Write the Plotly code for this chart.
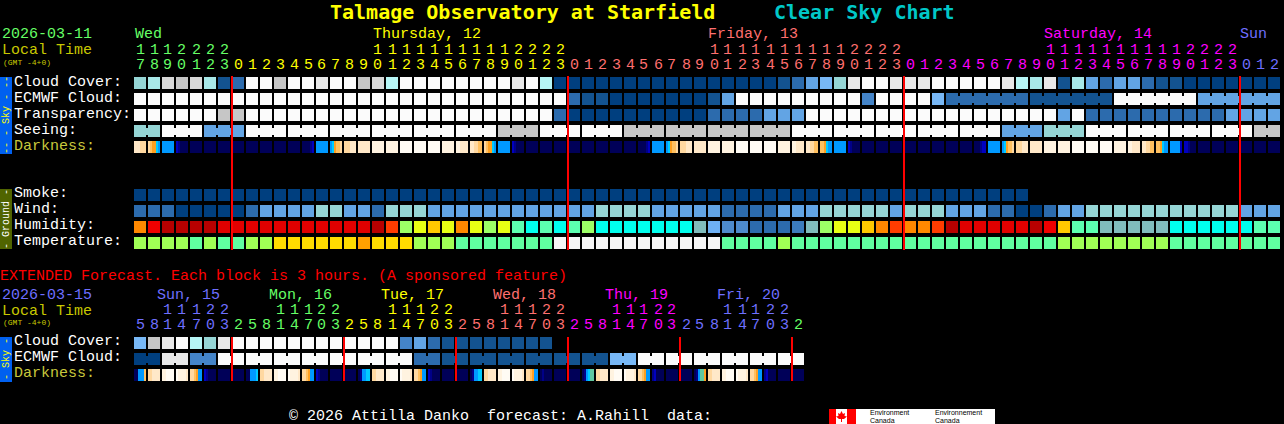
import plotly.graph_objects as go

W, H = 1284, 424

# ---------- data: main forecast (one value per hour, 82 columns) ----------
HOURS = [17,18,19,20,21,22,23,
         0,1,2,3,4,5,6,7,8,9,10,11,12,13,14,15,16,17,18,19,20,21,22,23,
         0,1,2,3,4,5,6,7,8,9,10,11,12,13,14,15,16,17,18,19,20,21,22,23,
         0,1,2,3,4,5,6,7,8,9,10,11,12,13,14,15,16,17,18,19,20,21,22,23,
         0,1,2]
HOUR_DAY = [0]*7 + [1]*24 + [2]*24 + [3]*24 + [4]*3
DAY_NAMES = ["Wed", "Thursday, 12", "Friday, 13", "Saturday, 14", "Sun"]
DAY_COLS = [0, 17, 40.9, 64.95, 78.95]

CLOUD_COVER = [6,7,10,9,10,7,1,
  2,12,12,9,12,12,11,12,12,9,10,8,12,12,12,12,12,12,12,12,11,12,8,0,
  0,0,0,0,0,0,0,0,0,0,0,0,0,0,0,1,2,4,5,6,11,12,12,11,
  11,11,12,12,12,12,12,11,8,7,11,1,7,4,2,4,4,2,1,1,0,0,0,0,
  0,0,0]
ECMWF = [12,12,12,12,12,12,12,
  12,12,12,12,12,12,12,12,12,12,12,12,12,12,12,12,12,12,12,12,12,12,12,12,
  2,1,1,0,0,0,0,0,0,0,1,4,12,12,12,12,12,12,12,12,12,3,12,12,
  12,12,5,2,2,2,2,2,2,1,1,1,1,1,1,12,12,12,12,12,12,4,4,4,
  4,4,4]
ECMWF_SPANS = [1]*58 + [6,6,6,6]
TRANSPARENCY = [12,12,12,12,12,12,9,
  9,12,12,12,12,12,12,12,12,12,12,12,12,12,12,12,12,12,12,12,12,12,12,2,
  0,0,0,0,0,0,0,0,0,0,2,2,2,2,4,4,4,12,12,12,12,12,12,12,
  12,12,12,12,12,12,12,12,12,12,12,4,12,2,2,2,2,2,2,2,2,2,2,4,
  4,4,4]
SEEING = [6,6,12,12,12,4,4,
  4,12,12,12,12,12,12,12,12,12,12,12,12,12,12,12,12,12,12,9,9,9,12,12,
  12,12,12,12,9,9,9,9,9,9,9,9,9,9,9,9,12,12,12,12,12,12,12,12,
  12,12,12,12,12,12,12,4,4,4,6,6,6,12,12,12,12,12,12,12,12,12,12,12,
  12,9,9]
SEEING_SPANS = [2] + [3]*26 + [2]
DARKNESS = ["999888","876643","333333","210000","000000","000000","000000",
  "000000","000000","000000","000000","000000","000012","333333","346778","888999","999999",
  "aaaaaa","aaaaaa","bbbbbb","bbbbbb","bbbbbb","aaaaaa","aa9999","998877","876643","333333",
  "210000","000000","000000","000000",
  "000000","000000","000000","000000","000000","000012","333333","346778","888999","999999",
  "aaaaaa","aaaaaa","bbbbbb","bbbbbb","bbbbbb","aaaaaa","aa9999","998877","776433","333333",
  "210000","000000","000000","000000",
  "000000","000000","000000","000000","000000","000122","333333","346778","888999","999999",
  "aaaaaa","aaaaaa","bbbbbb","bbbbbb","bbbbbb","aaaaaa","aa9999","998877","776433","333332",
  "221000","000000","000000","000000",
  "000000","000000","000000"]
SMOKE = [0,0,0,0,0,0,0,
  0,0,0,0,0,0,0,0,0,0,0,0,0,0,0,0,0,0,0,0,0,0,0,0,
  0,0,0,0,0,0,0,0,0,0,0,0,0,0,0,0,0,0,0,0,0,0,0,0,
  0,0,0,0,0,0,0,0,0]
WIND = [2,2,2,0,0,0,0,
  0,2,4,4,4,4,6,6,4,4,2,6,6,6,4,4,4,4,4,4,4,4,4,4,
  4,4,6,6,6,6,4,4,4,4,4,2,2,2,2,4,4,4,6,6,6,6,6,4,
  6,6,6,4,4,4,2,2,0,0,2,4,4,6,6,6,6,6,6,6,6,6,6,6,
  4,4,4]
HUMIDITY = [0,1,3,3,3,3,2,
  2,2,2,2,2,2,2,2,2,2,3,4,6,7,5,7,0,7,6,7,8,9,8,9,
  8,6,9,9,9,9,9,9,9,10,11,12,12,13,13,13,14,10,6,7,7,5,0,4,
  0,0,4,3,2,2,2,2,2,3,1,5,8,8,10,10,10,10,10,9,9,9,9,9,
  9,8,8]
TEMPERATURE = [0,0,0,0,1,0,1,
  1,0,0,2,2,2,2,2,2,3,2,2,2,0,0,0,1,1,1,1,1,1,1,4,
  4,4,4,4,4,4,4,4,4,4,4,1,1,1,1,0,1,1,1,1,1,1,1,1,
  1,1,1,1,1,1,1,1,1,1,1,0,0,0,0,0,0,0,0,1,1,1,1,1,
  1,1,1]

# ---------- data: extended forecast (one value per 3 hours, 48 columns) ----------
EXT_HOURS = [5,8,11,14,17,20,23,
  2,5,8,11,14,17,20,23, 2,5,8,11,14,17,20,23, 2,5,8,11,14,17,20,23,
  2,5,8,11,14,17,20,23, 2,5,8,11,14,17,20,23, 2]
EXT_DAY = [4]*7 + [0]*8 + [1]*8 + [2]*8 + [3]*8 + [4]*8 + [0]
EXT_DAY_NAMES = ["Sun, 15", "Mon, 16", "Tue, 17", "Wed, 18", "Thu, 19", "Fri, 20"]
EXT_DAY_COLS = [1.65, 9.65, 17.65, 25.65, 33.65, 41.65]
EXT_CLOUD = [5,9,11,12,8,6,11,
  12,12,12,12,12,12,12,12,12,12,12,12,3,4,2,1,1,1,1,1,1,1,1]
EXT_ECMWF = [0,0,11,11,3,3,12,12,12,12,12,12,12,12,12,12,12,12,12,12,2,2,1,1,
  1,1,1,1,1,1,1,1,1,1,5,5,12,12,12,12,12,12,12,12,12,12,12,12]
EXT_ECMWF_SPANS = [2]*24
EXT_DARKNESS = ["003337","889999","aabbbb","baaaa9","887633","210000","000000",
  "000000","003334","889999","aabbbb","baaaa9","887633","210000","000000",
  "000000","013344","889999","aabbbb","baaaa9","887633","210000","000000",
  "000000","013344","889999","aabbbb","baaaa9","887633","010000","000000",
  "000000","013455","889999","aabbbb","baaaa9","887633","120000","000000",
  "000000","013556","889999","aabbbb","baaaa9","887633","120000","000000",
  "000000"]

MIDNIGHTS = [7, 31, 55, 79]
EXT_MIDNIGHTS = [7, 15, 23, 31, 39, 47]

assert all(len(a) == 82 for a in (HOURS, HOUR_DAY, CLOUD_COVER, ECMWF, TRANSPARENCY, SEEING, DARKNESS, WIND, HUMIDITY, TEMPERATURE))
assert len(SMOKE) == 64 and len(EXT_CLOUD) == 30
assert all(len(a) == 48 for a in (EXT_HOURS, EXT_DAY, EXT_ECMWF, EXT_DARKNESS))

# ---------- styles ----------
SKY_PAL = ["#003F7F","#135390","#2C6BAD","#4484C8","#62A4E4","#78B8F6","#95D5D5",
           "#A8E8E8","#B6F6F6","#C6C6C6","#D8D8D8","#E8E8E8","#FBFBFB"]
HUM_PAL = ["#FF8800","#F00000","#E00000","#B80000","#FF3C00","#FFC800","#9CFF66","#E8FF14",
           "#5CFFB0","#00FFEE","#80BCBC","#6EB0F4","#4E8BCB","#2C6BAD","#3C7CBC"]
TEMP_PAL = ["#A0FF55","#60FFA0","#FFDC00","#FFA000","#F6F6F6"]
DARK_PAL = {"0":"#000058","1":"#000088","2":"#0000C0","3":"#0099FF","4":"#00CCFF","5":"#60C8A0",
            "6":"#FFA020","7":"#FFC060","8":"#FFD8A0","9":"#FFE8C8","a":"#FFF3E0","b":"#FFFBF4"}
CYCLE = ["#66FF66","#FFFF00","#FF6F6F","#FF00FF","#6F6FFF"]
MONO = "Liberation Mono"
X0, PITCH, CELL, RH = 134, 14, 12, 12
CW = CELL / PITCH
BAND = 7

fig = go.Figure()

def cell_row(values, palette, top, spans=None):
    xs = [i + CW / 2 for i in range(len(values))]
    fig.add_trace(go.Bar(x=xs, y=[RH]*len(xs), base=[top]*len(xs), width=[CW]*len(xs),
                         marker=dict(color=[palette[v] for v in values], line=dict(width=0)),
                         hoverinfo="skip", showlegend=False))
    if spans:
        cx, cc, i = [], [], 0
        for s in spans:
            for k in range(i, i + s - 1):
                cx.append(k + CW + (1 - CW) / 2)
                cc.append(palette[values[k]])
            i += s
        if cx:
            fig.add_trace(go.Bar(x=cx, y=[BAND]*len(cx), base=[top + (RH - BAND) / 2]*len(cx),
                                 width=[1 - CW]*len(cx),
                                 marker=dict(color=cc, line=dict(width=0)),
                                 hoverinfo="skip", showlegend=False))

def dark_row(blocks, top):
    xs, cs = [], []
    for i, b in enumerate(blocks):
        n = len(b)
        for k, ch in enumerate(b):
            xs.append(i + CW * (k + 0.5) / n)
            cs.append(DARK_PAL[ch])
    fig.add_trace(go.Bar(x=xs, y=[RH]*len(xs), base=[top]*len(xs), width=[CW / 6]*len(xs),
                         marker=dict(color=cs, line=dict(width=0)),
                         hoverinfo="skip", showlegend=False))

cell_row(CLOUD_COVER, SKY_PAL, 77)
cell_row(ECMWF, SKY_PAL, 93, ECMWF_SPANS)
cell_row(TRANSPARENCY, SKY_PAL, 109)
cell_row(SEEING, SKY_PAL, 125, SEEING_SPANS)
dark_row(DARKNESS, 141)
cell_row(SMOKE, SKY_PAL, 189)
cell_row(WIND, SKY_PAL, 205)
cell_row(HUMIDITY, HUM_PAL, 221)
cell_row(TEMPERATURE, TEMP_PAL, 237)
cell_row(EXT_CLOUD, SKY_PAL, 337)
cell_row(EXT_ECMWF, SKY_PAL, 353, EXT_ECMWF_SPANS)
dark_row(EXT_DARKNESS, 369)

def red_lines(cols, y0, y1):
    xs, ys = [], []
    for c in cols:
        xs += [c, c, None]
        ys += [y0, y1, None]
    fig.add_trace(go.Scatter(x=xs, y=ys, mode="lines", line=dict(color="#FF0000", width=2),
                             hoverinfo="skip", showlegend=False))

red_lines(MIDNIGHTS, 76, 250)
red_lines(EXT_MIDNIGHTS, 337, 381)

# ---------- text ----------
ann = []
def T(x, y, s, color, size=15, font=MONO, bold=False, anchor="left", angle=0):
    if bold:
        s = "<b>" + s + "</b>"
    ann.append(dict(x=x / W, y=1 - y / H, xref="paper", yref="paper", text=s, showarrow=False,
                    xanchor=anchor, yanchor="middle", textangle=angle, align="left",
                    font=dict(family=font, size=size, color=color),
                    borderpad=0, borderwidth=0, xshift=0, yshift=0))

def col_px(i):
    return X0 + PITCH * i + CELL / 2

T(330, 12, "Talmage Observatory at Starfield", "#FFFF00", 20, "DejaVu Sans Mono", True)
T(774, 12, "Clear Sky Chart", "#00C8C8", 20, "DejaVu Sans Mono", True)

T(2, 35, "2026-03-11", CYCLE[0])
T(2, 51, "Local Time", "#C8C800")
T(3, 62, "(GMT -4+0)", "#C8C800", 8)
for name, c, col in zip(DAY_NAMES, DAY_COLS, CYCLE):
    T(X0 + PITCH * c + 1, 35, name, col)
for i, h in enumerate(HOURS):
    col = CYCLE[HOUR_DAY[i]]
    if h >= 10:
        T(col_px(i), 50, str(h // 10), col, anchor="center")
    T(col_px(i), 65, str(h % 10), col, anchor="center")

for y, s, c in [(82, "Cloud Cover:", "#FFFFFF"), (98, "ECMWF Cloud:", "#FFFFFF"),
                (114, "Transparency:", "#FFFFFF"), (130, "Seeing:", "#FFFFFF"),
                (146, "Darkness:", "#C8C83C"), (193, "Smoke:", "#FFFFFF"), (209, "Wind:", "#FFFFFF"),
                (225, "Humidity:", "#FFFFFF"), (241, "Temperature:", "#FFFFFF"),
                (341, "Cloud Cover:", "#FFFFFF"), (357, "ECMWF Cloud:", "#FFFFFF"),
                (373, "Darkness:", "#C8C83C")]:
    T(14, y, s, c)

T(0, 276, "EXTENDED Forecast. Each block is 3 hours. (A sponsored feature)", "#FF0000")
T(2, 295, "2026-03-15", CYCLE[4])
T(2, 311, "Local Time", "#C8C800")
T(3, 322, "(GMT -4+0)", "#C8C800", 8)
for name, c, col in zip(EXT_DAY_NAMES, EXT_DAY_COLS, [CYCLE[4]] + CYCLE):
    T(X0 + PITCH * c, 295, name, col)
for i, h in enumerate(EXT_HOURS):
    col = CYCLE[EXT_DAY[i]]
    if h >= 10:
        T(col_px(i), 310, str(h // 10), col, anchor="center")
    T(col_px(i), 325, str(h % 10), col, anchor="center")

T(289, 416, "© 2026 Attilla Danko\u00a0 forecast: A.Rahill\u00a0 data:", "#FFFFFF")

T(6, 115, "-- - Sky - --", "#FFFF00", 10, anchor="center", angle=-90)
T(6, 219, "- Ground -", "#FFFFFF", 10, anchor="center", angle=-90)
T(6, 359, "- Sky -", "#FFFF00", 10, anchor="center", angle=-90)

T(870, 412.5, "Environment", "#000000", 7, "Liberation Sans")
T(870, 420.5, "Canada", "#000000", 7, "Liberation Sans")
T(935, 412.5, "Environnement", "#000000", 7, "Liberation Sans")
T(935, 420.5, "Canada", "#000000", 7, "Liberation Sans")

# ---------- panels ----------
shapes = []
def R(x0, y0, x1, y1, color, layer="below"):
    shapes.append(dict(type="rect", xref="paper", yref="paper", x0=x0 / W, x1=x1 / W,
                       y0=1 - y0 / H, y1=1 - y1 / H, fillcolor=color, line=dict(width=0), layer=layer))

R(0, 77, 12, 154, "#0060F0")
R(0, 189, 12, 249, "#506400")
R(0, 337, 12, 382, "#0060F0")
R(829, 409, 995, 424, "#FFFFFF")
R(829, 409, 836, 424, "#FF0000")
R(847, 409, 856, 424, "#FF0000")
leaf = [(841.5,411),(843,414),(845,413),(844.5,416),(847,416.5),(844,419),(842,419),(842,422),
        (841,422),(841,419),(839,419),(836,416.5),(838.5,416),(838,413),(840,414)]
shapes.append(dict(type="path", xref="paper", yref="paper", layer="below",
                   path="M " + " L ".join(f"{x / W:.5f},{1 - y / H:.5f}" for x, y in leaf) + " Z",
                   fillcolor="#FF0000", line=dict(width=0)))

fig.update_layout(
    width=W, height=H, margin=dict(l=0, r=0, t=0, b=0, pad=0),
    paper_bgcolor="#000000", plot_bgcolor="#000000",
    barmode="overlay", bargap=0, showlegend=False,
    xaxis=dict(visible=False, range=[-X0 / PITCH, (W - X0) / PITCH], fixedrange=True),
    yaxis=dict(visible=False, range=[H, 0], fixedrange=True),
    annotations=ann, shapes=shapes,
)

fig.write_html("out.html", config=dict(displayModeBar=False),
               post_script="document.body.style.margin='0';document.body.style.background='#000';document.body.style.overflow='hidden';")
